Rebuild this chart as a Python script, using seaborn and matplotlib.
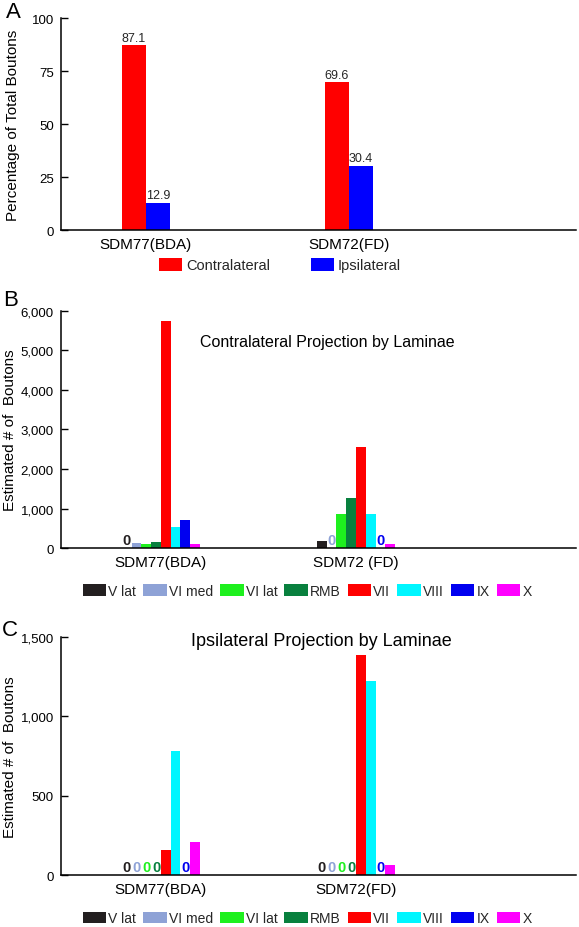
import numpy as np
import pandas as pd
import matplotlib
matplotlib.use("Agg")
import matplotlib.pyplot as plt
import seaborn as sns
from matplotlib.ticker import FuncFormatter

# Panel A: percentage of total boutons
samples_a = ["SDM77(BDA)", "SDM72(FD)"]
sides = ["Contralateral", "Ipsilateral"]
pct_contra = [87.1, 69.6]
pct_ipsi = [12.9, 30.4]
side_colors = ["#ff0000", "#0000ff"]

# Panels B and C: estimated boutons per lamina
laminae = ["V lat", "VI med", "VI lat", "RMB", "VII", "VIII", "IX", "X"]
lamina_colors = ["#231f20", "#8ea2d6", "#1ef01e", "#08803e",
                 "#ff0000", "#00f6ff", "#0000f0", "#ff00ff"]

samples_b = ["SDM77(BDA)", "SDM72 (FD)"]
contra_sdm77 = [0, 130, 90, 160, 5750, 530, 720, 100]
contra_sdm72 = [175, 0, 860, 1270, 2560, 860, 0, 90]

samples_c = ["SDM77(BDA)", "SDM72(FD)"]
ipsi_sdm77 = [0, 0, 0, 0, 155, 782, 0, 206]
ipsi_sdm72 = [0, 0, 0, 0, 1385, 1222, 0, 63]

sns.set_theme(style="ticks")
plt.rcParams["font.family"] = ["Liberation Sans", "DejaVu Sans"]
plt.rcParams["axes.linewidth"] = 1.1


def style_axis(ax, ylabel, label_x):
    sns.despine(ax=ax)
    ax.spines["left"].set_color("black")
    ax.spines["bottom"].set_color("black")
    ax.tick_params(axis="y", direction="in", length=5, width=1, pad=5,
                   labelsize=9.5, colors="black")
    ax.tick_params(axis="x", length=0, pad=5, labelsize=11, colors="black")
    ax.set_xlabel("")
    ax.set_ylabel(ylabel, fontsize=11, color="black")
    ax.yaxis.set_label_coords(label_x, 0.5)


def laminae_panel(ax, samples, sdm77, sdm72, title, title_xy, title_size,
                  ymax, step):
    df = pd.DataFrame({
        "sample": np.repeat(samples, len(laminae)),
        "lamina": laminae * 2,
        "count": sdm77 + sdm72,
    })
    sns.barplot(data=df, x="sample", y="count", hue="lamina", order=samples,
                hue_order=laminae, palette=dict(zip(laminae, lamina_colors)),
                width=0.4, saturation=1, errorbar=None, linewidth=0, ax=ax)
    # zero counts are written as a "0" in the lamina colour
    for container in ax.containers:
        for bar in container:
            if bar.get_height() == 0:
                ax.text(bar.get_x() + bar.get_width() / 2, ymax * 0.004, "0",
                        color=bar.get_facecolor(), ha="center", va="bottom",
                        fontweight="bold", fontsize=10.5)
    ax.set_ylim(0, ymax)
    ax.set_xlim(-0.513, 2.128)
    ax.set_yticks(np.arange(0, ymax + 1, step))
    ax.yaxis.set_major_formatter(FuncFormatter(lambda v, p: f"{v:,.0f}"))
    style_axis(ax, "Estimated # of  Boutons", -0.085)
    ax.text(title_xy[0], title_xy[1], title, transform=ax.transAxes,
            ha="center", va="center", fontsize=title_size, color="black")
    sns.move_legend(ax, "center", bbox_to_anchor=(0.478, -0.181), ncol=8,
                    frameon=False, title=None, fontsize=10,
                    handlelength=1.7, handleheight=0.9, handletextpad=0.15,
                    columnspacing=0.5)


fig = plt.figure(figsize=(5.79, 9.28), dpi=100)
ax_a = fig.add_axes([0.105, 0.751, 0.89, 0.2285])
ax_b = fig.add_axes([0.105, 0.4084, 0.89, 0.2554])
ax_c = fig.add_axes([0.105, 0.056, 0.89, 0.2568])

# Panel A
df_a = pd.DataFrame({
    "sample": samples_a * 2,
    "side": np.repeat(sides, len(samples_a)),
    "pct": pct_contra + pct_ipsi,
})
sns.barplot(data=df_a, x="sample", y="pct", hue="side", order=samples_a,
            hue_order=sides, palette=dict(zip(sides, side_colors)),
            width=0.236, saturation=1, errorbar=None, linewidth=0, ax=ax_a)
for container in ax_a.containers:
    ax_a.bar_label(container, fmt="%.1f", padding=1, fontsize=9)
ax_a.set_ylim(0, 100)
ax_a.set_xlim(-0.419, 2.118)
ax_a.set_yticks([0, 25, 50, 75, 100])
style_axis(ax_a, "Percentage of Total Boutons", -0.08)
sns.move_legend(ax_a, "center", bbox_to_anchor=(0.425, -0.165), ncol=2,
                frameon=False, title=None, fontsize=10.5,
                handlelength=1.6, handleheight=1.0, handletextpad=0.25,
                columnspacing=2.8)

laminae_panel(ax_b, samples_b, contra_sdm77, contra_sdm72,
              "Contralateral Projection by Laminae", (0.517, 0.873), 11.5,
              6000, 1000)
laminae_panel(ax_c, samples_c, ipsi_sdm77, ipsi_sdm72,
              "Ipsilateral Projection by Laminae", (0.505, 0.983), 13,
              1500, 500)

for letter, (x, y) in {"A": (13, 13), "B": (11, 300), "C": (10, 630)}.items():
    fig.text(x / 579, 1 - y / 928, letter, fontsize=16, ha="center",
             va="center", color="black")

fig.savefig("out.png", dpi=100)
